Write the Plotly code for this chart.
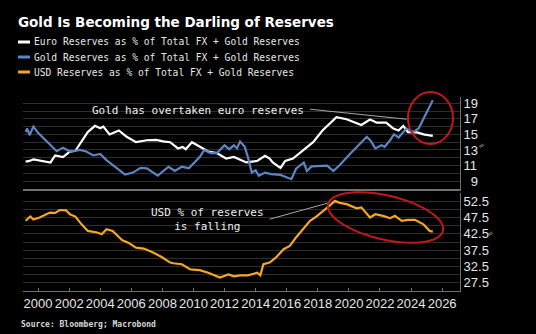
import numpy as np
import plotly.graph_objects as go

# ---------------- data ----------------
euro_years = [1999.2, 1999.45, 1999.7, 2000.2, 2000.8, 2001.1, 2001.6, 2002.05, 2002.4, 2002.7,
              2003.2, 2003.66, 2004.0, 2004.2, 2004.6, 2005.2, 2005.7, 2006.3, 2007.0, 2007.6,
              2008.05, 2008.5, 2009.0, 2009.3, 2009.5, 2009.9, 2010.4, 2010.95, 2011.5, 2012.1,
              2012.6, 2013.4, 2014.1, 2014.6, 2014.9, 2015.1, 2015.6, 2015.9, 2016.4, 2017.1,
              2017.7, 2018.3, 2018.9, 2019.2, 2019.85, 2020.5, 2020.8, 2021.36, 2021.8, 2022.4,
              2022.86, 2023.2, 2023.5, 2023.8, 2024.4, 2024.8, 2025.4]
euro_pct = [11.5, 11.6, 11.8, 11.6, 11.4, 12.3, 12.1, 12.8, 12.9, 13.8,
            15.3, 16.1, 15.8, 16.0, 15.0, 15.5, 14.7, 14.0, 14.25, 14.3,
            14.1, 14.0, 13.2, 13.4, 13.1, 14.0, 13.4, 12.8, 12.6, 11.9,
            12.1, 11.4, 11.6, 12.25, 11.9, 11.4, 10.7, 11.6, 11.9, 13.0,
            14.0, 15.5, 16.7, 17.2, 16.95, 16.5, 16.2, 16.9, 16.5, 16.5,
            15.75, 15.5, 16.1, 15.3, 15.25, 15.0, 14.8]

gold_years = [1999.2, 1999.3, 1999.45, 1999.7, 2000.0, 2000.3, 2000.76, 2001.2, 2001.6, 2002.05,
              2002.7, 2003.1, 2003.55, 2004.0, 2004.4, 2004.95, 2005.6, 2006.1, 2006.6, 2007.0,
              2007.4, 2007.7, 2008.05, 2008.4, 2008.8, 2009.25, 2009.7, 2010.0, 2010.4, 2010.7,
              2011.1, 2011.5, 2011.8, 2012.0, 2012.3, 2012.6, 2012.8, 2013.0, 2013.3, 2013.5,
              2013.75, 2014.0, 2014.2, 2014.6, 2015.0, 2015.6, 2016.3, 2016.6, 2017.1, 2017.3,
              2017.6, 2018.2, 2018.6, 2019.0, 2019.4, 2020.1, 2020.7, 2021.15, 2021.4, 2021.7,
              2022.1, 2022.3, 2022.65, 2022.9, 2023.2, 2023.5, 2023.7, 2024.15, 2024.5, 2024.8,
              2025.1, 2025.4]
gold_pct = [15.3, 15.75, 14.9, 16.0, 15.2, 14.6, 13.8, 12.85, 13.3, 12.8,
            13.0, 12.8, 12.3, 12.5, 11.7, 10.85, 9.85, 10.1, 10.7, 10.65,
            10.1, 9.7, 10.3, 10.85, 10.3, 10.85, 10.65, 11.3, 12.1, 13.0,
            12.6, 12.6, 13.2, 13.6, 13.1, 13.6, 13.2, 14.1, 13.4, 12.1,
            10.1, 10.4, 9.7, 10.1, 9.9, 9.8, 9.25, 10.6, 11.4, 10.3,
            10.9, 10.95, 11.0, 10.3, 11.05, 12.55, 13.8, 14.7, 14.2, 13.2,
            13.6, 13.4, 14.25, 15.0, 14.6, 15.3, 15.75, 15.3, 15.8, 17.0,
            18.3, 19.4]

usd_years = [1999.2, 1999.5, 1999.7, 2000.1, 2000.76, 2001.1, 2001.4, 2001.8, 2002.05, 2002.4,
             2002.8, 2003.2, 2003.8, 2004.1, 2004.4, 2004.8, 2005.4, 2005.8, 2006.3, 2006.8,
             2007.4, 2007.95, 2008.5, 2008.7, 2009.25, 2009.8, 2010.4, 2010.95, 2011.7, 2012.25,
             2012.6, 2013.0, 2013.5, 2014.1, 2014.3, 2014.5, 2014.9, 2015.3, 2015.8, 2016.2,
             2016.6, 2017.1, 2017.5, 2017.9, 2018.5, 2018.8, 2019.1, 2019.4, 2019.85, 2020.5,
             2020.8, 2021.36, 2021.7, 2022.2, 2022.65, 2022.96, 2023.4, 2023.8, 2024.25, 2024.8,
             2025.2, 2025.4]
usd_pct = [46.5, 47.8, 46.9, 47.5, 49.0, 48.9, 49.8, 49.7, 48.5, 47.8,
           45.4, 43.4, 42.9, 42.4, 43.9, 43.4, 40.6, 39.8, 38.3, 38.0,
           36.8, 35.4, 33.7, 33.5, 33.2, 31.6, 31.4, 30.6, 29.1, 30.1,
           29.5, 29.8, 29.8, 30.6, 29.8, 33.2, 33.7, 35.2, 37.8, 38.8,
           41.4, 44.4, 46.5, 47.8, 50.0, 51.3, 52.6, 52.0, 51.6, 50.3,
           50.6, 47.5, 48.5, 48.0, 47.3, 48.0, 46.5, 46.8, 46.8, 45.4,
           43.4, 43.2]

x_ticks = list(range(2000, 2027, 2))
top_ticks = [9, 11, 13, 15, 17, 19]
top_ticktext = ["\u20079", "11", "13", "15", "17", "19"]
bot_ticks = [27.5, 32.5, 37.5, 42.5, 47.5, 52.5]
bot_ticktext = ["27.5", "32.5", "37.5", "42.5", "47.5", "52.5"]

names = ["Euro Reserves as % of Total FX + Gold Reserves",
         "Gold Reserves as % of Total FX + Gold Reserves",
         "USD Reserves as % of Total FX + Gold Reserves"]
colors = ["#ffffff", "#5b86c4", "#f5a623"]

# ---------------- figure ----------------
W, H = 536, 334
L, R, T, B = 23, 76, 97, 43
pw, ph = W - L - R, H - T - B

def px2paper(x, y):
    return (x - L) / pw, (H - B - y) / ph

MONO = "DejaVu Sans Mono"
NARROW = "Liberation Sans Narrow, Arial Narrow, Liberation Sans, Arial"

fig = go.Figure()
fig.add_trace(go.Scatter(x=euro_years, y=euro_pct, name=names[0], mode="lines",
                         line=dict(color=colors[0], width=2.2), xaxis="x2", yaxis="y2"))
fig.add_trace(go.Scatter(x=gold_years, y=gold_pct, name=names[1], mode="lines",
                         line=dict(color=colors[1], width=2.2), xaxis="x2", yaxis="y2"))
fig.add_trace(go.Scatter(x=usd_years, y=usd_pct, name=names[2], mode="lines",
                         line=dict(color=colors[2], width=2.2), xaxis="x", yaxis="y"))

grid = "#2e2e2e"
axis_line = "#707070"
xrange = [1999.03, 2027.15]

fig.update_layout(
    width=W, height=H, margin=dict(l=L, r=R, t=T, b=B),
    paper_bgcolor="#000000", plot_bgcolor="#000000",
    showlegend=False,
    xaxis=dict(range=xrange, domain=[0, 1], anchor="y", tickmode="array", tickvals=x_ticks,
               ticktext=[str(v) for v in x_ticks], showgrid=False, showline=True,
               linecolor=axis_line, linewidth=1, ticks="inside", ticklen=3, tickcolor=axis_line,
               tickfont=dict(family=NARROW, size=13, color="#e6e6e6"), zeroline=False),
    xaxis2=dict(range=xrange, domain=[0, 1], anchor="y2", matches="x", showticklabels=False,
                showgrid=False, showline=True, linecolor=axis_line, linewidth=1.5, ticks="",
                zeroline=False),
    yaxis=dict(domain=[0, 0.505], range=[25, 55], side="right", tickmode="array",
               tickvals=bot_ticks, ticktext=bot_ticktext, showgrid=True, gridcolor=grid,
               minor=dict(dtick=2.5, tick0=25, showgrid=True, gridcolor=grid),
               showline=True, linecolor=axis_line, ticks="", zeroline=False,
               tickfont=dict(family=NARROW, size=13, color="#e6e6e6")),
    yaxis2=dict(domain=[0.526, 1], range=[8, 19.8], side="right", tickmode="array",
                tickvals=top_ticks, ticktext=top_ticktext, showgrid=True, gridcolor=grid,
                minor=dict(dtick=1, tick0=8, showgrid=True, gridcolor=grid),
                showline=True, linecolor=axis_line, ticks="", zeroline=False,
                tickfont=dict(family=NARROW, size=13, color="#e6e6e6")),
)

ann = []
# title
ann.append(dict(xref="paper", yref="paper", x=px2paper(16, 0)[0], y=px2paper(0, 22)[1],
                text="<b>Gold Is Becoming the Darling of Reserves</b>", showarrow=False,
                xanchor="left", yanchor="middle",
                font=dict(family="DejaVu Sans", size=13.5, color="#ffffff")))
# legend (text)
shapes = []
for i, (nm, c) in enumerate(zip(names, colors)):
    yy = 42 + 15 * i
    ann.append(dict(xref="paper", yref="paper", x=px2paper(32, 0)[0], y=px2paper(0, yy)[1],
                    text=nm, showarrow=False, xanchor="left", yanchor="middle",
                    font=dict(family=MONO, size=9.6, color="#e8e8e8")))
    x0, y0 = px2paper(18, yy)
    x1, _ = px2paper(30, yy)
    shapes.append(dict(type="line", xref="paper", yref="paper", x0=x0, x1=x1, y0=y0, y1=y0,
                       line=dict(color=c, width=3)))
# source
ann.append(dict(xref="paper", yref="paper", x=px2paper(19, 0)[0], y=px2paper(0, 324)[1],
                text="<b>Source: Bloomberg; Macrobond</b>", showarrow=False,
                xanchor="left", yanchor="middle",
                font=dict(family=MONO, size=8, color="#d8d8d8")))
# chart annotations
ann.append(dict(xref="x2", yref="y2", x=2010.26, y=18.1, text="Gold has overtaken euro reserves",
                showarrow=False, xanchor="center", yanchor="middle",
                font=dict(family=MONO, size=11, color="#f0f0f0")))
ann.append(dict(xref="x", yref="y", x=2010.9, y=47.0, text="USD % of reserves<br>is falling",
                showarrow=False, xanchor="center", yanchor="middle", align="center",
                font=dict(family=MONO, size=11, color="#f0f0f0")))
# small unit marks on right
for (mx, my) in [(490, 137), (499, 242)]:
    ax_, ay_ = px2paper(mx, my)
    ann.append(dict(xref="paper", yref="paper", x=ax_, y=ay_, text="≈", showarrow=False,
                    textangle=-35, font=dict(family="DejaVu Sans", size=8, color="#9a9a9a")))

shapes.append(dict(type="line", xref="x2", yref="y2", x0=2017.5, y0=18.23, x1=2023.72, y1=16.95,
                   line=dict(color="#a8a8a8", width=1)))
shapes.append(dict(type="line", xref="x", yref="y", x0=2014.9, y0=47.0, x1=2018.78, y1=52.1,
                   line=dict(color="#a8a8a8", width=1)))

# top red ellipse
ex0, ey0 = px2paper(408, 144)
ex1, ey1 = px2paper(453, 92)
shapes.append(dict(type="circle", xref="paper", yref="paper", x0=ex0, y0=ey0, x1=ex1, y1=ey1,
                   line=dict(color="#c4161c", width=2)))
# bottom rotated red ellipse
cx, cy, a, b, th = 385.5, 217.5, 59, 22, np.deg2rad(13)
t = np.linspace(0, 2 * np.pi, 73)
ex = cx + a * np.cos(t) * np.cos(th) - b * np.sin(t) * np.sin(th)
ey = cy + a * np.cos(t) * np.sin(th) + b * np.sin(t) * np.cos(th)
pts = [px2paper(X, Y) for X, Y in zip(ex, ey)]
path = "M " + " L ".join(f"{p[0]:.5f},{p[1]:.5f}" for p in pts) + " Z"
shapes.append(dict(type="path", xref="paper", yref="paper", path=path,
                   line=dict(color="#c4161c", width=2)))

fig.update_layout(annotations=ann, shapes=shapes)
fig.write_html("out.html")
